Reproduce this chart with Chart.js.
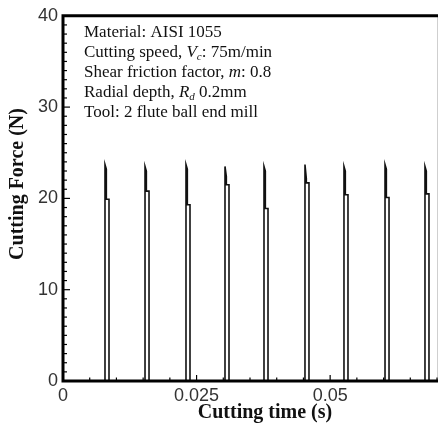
<!DOCTYPE html>
<html>
<head>
<meta charset="utf-8">
<script src="https://cdn.jsdelivr.net/npm/chart.js@4/dist/chart.umd.min.js"></script>
<style>
  html, body { margin: 0; padding: 0; background: #fff; }
  #wrap { width: 438px; height: 431px; position: relative; }
</style>
</head>
<body>
<div id="wrap"><canvas id="c" width="438" height="431"></canvas></div>
<script>
// ---- Data ----
// Each tool contact: force jumps to a peak, settles to a plateau, then drops to zero.
const contactStart  = [0.00786, 0.01535, 0.02302, 0.03032, 0.03762, 0.04529, 0.05259, 0.06027, 0.06775]; // s
const settleTime    = [0.00811, 0.01560, 0.02327, 0.03057, 0.03787, 0.04554, 0.05284, 0.06052, 0.06800]; // s
const contactEnd    = [0.00861, 0.01610, 0.02377, 0.03107, 0.03837, 0.04604, 0.05334, 0.06102, 0.06850]; // s
const peakForce     = [23.7, 23.5, 23.7, 23.5, 23.5, 23.7, 23.5, 23.7, 23.5]; // N
const shoulderForce = [23.2, 23.0, 23.2, 22.4, 23.0, 22.2, 23.0, 23.2, 23.0]; // N
const plateauForce  = [19.9, 20.8, 19.3, 21.5, 18.9, 21.7, 20.4, 20.1, 20.5]; // N
const timeRange     = [0, 0.07];
const xTickValues   = [0, 0.025, 0.05];
const yTickValues   = [0, 10, 20, 30, 40];
const xTitle = 'Cutting time (s)';
const yTitle = 'Cutting Force (N)';

// Build the line points from the arrays above
const points = [{x: timeRange[0], y: 0}];
for (let i = 0; i < contactStart.length; i++) {
  points.push({x: contactStart[i], y: 0});
  points.push({x: contactStart[i], y: peakForce[i]});
  points.push({x: settleTime[i], y: shoulderForce[i]});
  points.push({x: settleTime[i], y: plateauForce[i]});
  points.push({x: contactEnd[i], y: plateauForce[i]});
  points.push({x: contactEnd[i], y: 0});
}
points.push({x: timeRange[1], y: 0});

const SERIF = '"Liberation Serif", "Times New Roman", serif';
const SANS = '"Liberation Sans", Arial, sans-serif';

const frame = {
  id: 'frame',
  afterDatasetsDraw(chart) {
    const ctx = chart.ctx;
    const a = chart.chartArea;
    const xs = chart.scales.x, ys = chart.scales.y;
    ctx.save();
    // faint right border
    ctx.strokeStyle = '#cfcfcf';
    ctx.lineWidth = 1;
    ctx.beginPath(); ctx.moveTo(a.right + 0.5, a.top); ctx.lineTo(a.right + 0.5, a.bottom); ctx.stroke();
    // inward ticks on x axis
    ctx.strokeStyle = '#000';
    ctx.lineWidth = 1.2;
    for (let k = 1; k * 0.005 <= timeRange[1] + 1e-9; k++) {
      const v = k * 0.005;
      const px = xs.getPixelForValue(v);
      const major = (k % 5 === 0);
      ctx.beginPath(); ctx.moveTo(px, a.bottom); ctx.lineTo(px, a.bottom - (major ? 6 : 3.5)); ctx.stroke();
    }
    // inward ticks on y axis
    for (let k = 1; k < 40; k++) {
      const py = ys.getPixelForValue(k);
      const major = (k % 10 === 0);
      ctx.beginPath(); ctx.moveTo(a.left, py); ctx.lineTo(a.left + (major ? 7 : 4), py); ctx.stroke();
    }
    // thick axes: left, bottom, top
    ctx.lineWidth = 3;
    ctx.strokeStyle = '#000';
    ctx.beginPath();
    ctx.moveTo(a.right + 1, a.top);
    ctx.lineTo(a.left, a.top);
    ctx.lineTo(a.left, a.bottom);
    ctx.lineTo(a.right + 1, a.bottom);
    ctx.stroke();

    // axis titles
    ctx.fillStyle = '#111';
    ctx.font = 'bold 20px ' + SERIF;
    ctx.textAlign = 'center';
    ctx.textBaseline = 'middle';
    ctx.fillText(xTitle, 265, 413);
    ctx.save();
    ctx.translate(18, 184);
    ctx.rotate(-Math.PI / 2);
    ctx.fillText(yTitle, 0, 0);
    ctx.restore();

    // annotation block
    const lines = [
      [['Material: AISI 1055', '']],
      [['Cutting speed, ', ''], ['V', 'i'], ['c', 'isub'], [': 75m/min', '']],
      [['Shear friction factor, ', ''], ['m', 'i'], [': 0.8', '']],
      [['Radial depth, ', ''], ['R', 'i'], ['d', 'isub'], [' 0.2mm', '']],
      [['Tool: 2 flute ball end mill', '']]
    ];
    ctx.textAlign = 'left';
    ctx.textBaseline = 'alphabetic';
    const fs = 17;
    let y0 = 37;
    lines.forEach((segs, li) => {
      let x = 84;
      const yb = y0 + li * 20;
      segs.forEach(([t, st]) => {
        let size = fs, dy = 0, style = '';
        if (st === 'i') style = 'italic ';
        if (st === 'isub') { style = 'italic '; size = fs * 0.65; dy = 3; }
        ctx.font = style + size + 'px ' + SERIF;
        ctx.fillText(t, x, yb + dy);
        x += ctx.measureText(t).width;
      });
    });
    ctx.restore();
  }
};

new Chart(document.getElementById('c'), {
  type: 'line',
  data: {
    datasets: [{
      data: points,
      borderColor: '#111',
      borderWidth: 1.6,
      pointRadius: 0,
      tension: 0,
      fill: false
    }]
  },
  options: {
    responsive: false,
    animation: false,
    events: [],
    layout: { padding: { top: 13, right: 1, left: 0, bottom: 0 } },
    plugins: { legend: { display: false }, tooltip: { enabled: false } },
    scales: {
      x: {
        type: 'linear',
        min: timeRange[0],
        max: timeRange[1],
        afterFit: s => { s.height = 50; },
        afterBuildTicks: s => { s.ticks = xTickValues.map(v => ({value: v})); },
        grid: { display: false, drawTicks: false },
        border: { display: false },
        ticks: {
          autoSkip: false, maxRotation: 0, padding: 4,
          color: '#333',
          font: { family: SANS, size: 18 },
          callback: v => String(v)
        }
      },
      y: {
        min: 0,
        max: 40,
        afterFit: s => { s.width = 63; },
        afterBuildTicks: s => { s.ticks = yTickValues.map(v => ({value: v})); },
        grid: { display: false, drawTicks: false },
        border: { display: false },
        ticks: {
          autoSkip: false, padding: 5,
          color: '#333',
          font: { family: SANS, size: 18 },
          callback: v => String(v)
        }
      }
    }
  },
  plugins: [frame]
});
</script>
</body>
</html>
